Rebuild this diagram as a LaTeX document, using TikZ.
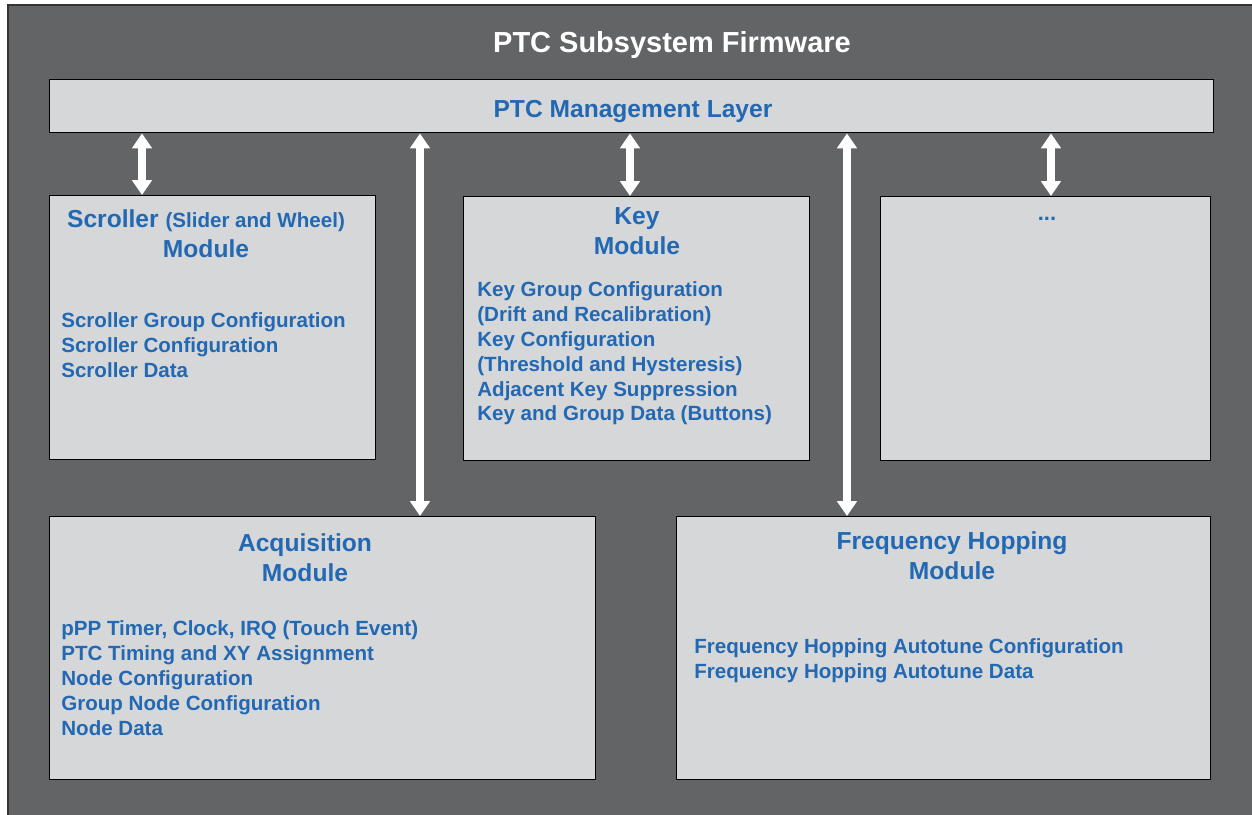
\documentclass[tikz,border=0pt]{standalone}
\usepackage{fontspec}
\setmainfont{Liberation Sans}
\usetikzlibrary{arrows.meta}
\definecolor{framegray}{HTML}{636466}
\definecolor{boxgray}{HTML}{D6D7D9}
\definecolor{ptcblue}{HTML}{2268B2}

\begin{document}
\begin{tikzpicture}[x=0.02cm,y=-0.02cm,
  box/.style={draw=black, line width=0.8pt, fill=boxgray, anchor=north west, inner sep=0pt, minimum height=5.28cm},
  head/.style={text=ptcblue, align=center, font=\bfseries\fontsize{14}{17}\selectfont},
  items/.style={text=ptcblue, align=left, anchor=north west, inner sep=0pt, font=\bfseries\fontsize{11.7}{14.2}\selectfont},
  link/.style={draw=white, line width=5pt, {Triangle[width=11pt,length=8.5pt]}-{Triangle[width=11pt,length=8.5pt]}}
]
\useasboundingbox (0,0) rectangle (1252,815);
\draw[draw=black!80, line width=1pt, fill=framegray] (8,5) rectangle (1270,830);
\node[text=white, font=\bfseries\fontsize{16.5}{20}\selectfont] (title) at (672,45) {PTC Subsystem Firmware};

% management layer
\node[box, minimum width=23.28cm, minimum height=1.06cm] (layer) at (49,79) {};
\node[head] (layer-text) at (633,112) {PTC Management Layer};

% upper row
\node[box, minimum width=6.52cm] (scr) at (49,195) {};
\node[head] (scr-head) at (206,234) {Scroller {\fontsize{11.7}{14}\selectfont (Slider and Wheel)}\\Module};
\node[items] (scr-items) at (61,312) {Scroller Group Configuration\\Scroller Configuration\\Scroller Data};

\node[box, minimum width=6.92cm] (key) at (463,196) {};
\node[head] (key-head) at (637,231) {Key\\Module};
\node[items] (key-items) at (477,281) {Key Group Configuration\\(Drift and Recalibration)\\Key Configuration\\(Threshold and Hysteresis)\\Adjacent Key Suppression\\Key and Group Data (Buttons)};

\node[box, minimum width=6.6cm] (more) at (880,196) {};
\node[text=ptcblue, font=\bfseries\fontsize{12.5}{14}\selectfont] (more-head) at (1047,219) {...};

% lower row
\node[box, minimum width=10.92cm, minimum height=5.26cm] (acq) at (49,516) {};
\node[head] (acq-head) at (305,558) {Acquisition\\Module};
\node[items] (acq-items) at (61,620) {pPP Timer, Clock, IRQ (Touch Event)\\PTC Timing and XY Assignment\\Node Configuration\\Group Node Configuration\\Node Data};

\node[box, minimum width=10.68cm, minimum height=5.26cm] (freq) at (676,516) {};
\node[head] (freq-head) at (952,556) {Frequency Hopping\\Module};
\node[items] (freq-items) at (694,638) {Frequency Hopping Autotune Configuration\\Frequency Hopping Autotune Data};

% links to the layer
\coordinate (x1) at (142,0);
\coordinate (x2) at (420,0);
\coordinate (x3) at (630,0);
\coordinate (x4) at (847,0);
\coordinate (x5) at (1051,0);
\draw[link] (layer.south -| x1) -- (scr.north -| x1);
\draw[link] (layer.south -| x2) -- (acq.north -| x2);
\draw[link] (layer.south -| x3) -- (key.north -| x3);
\draw[link] (layer.south -| x4) -- (freq.north -| x4);
\draw[link] (layer.south -| x5) -- (more.north -| x5);
\end{tikzpicture}
\end{document}
